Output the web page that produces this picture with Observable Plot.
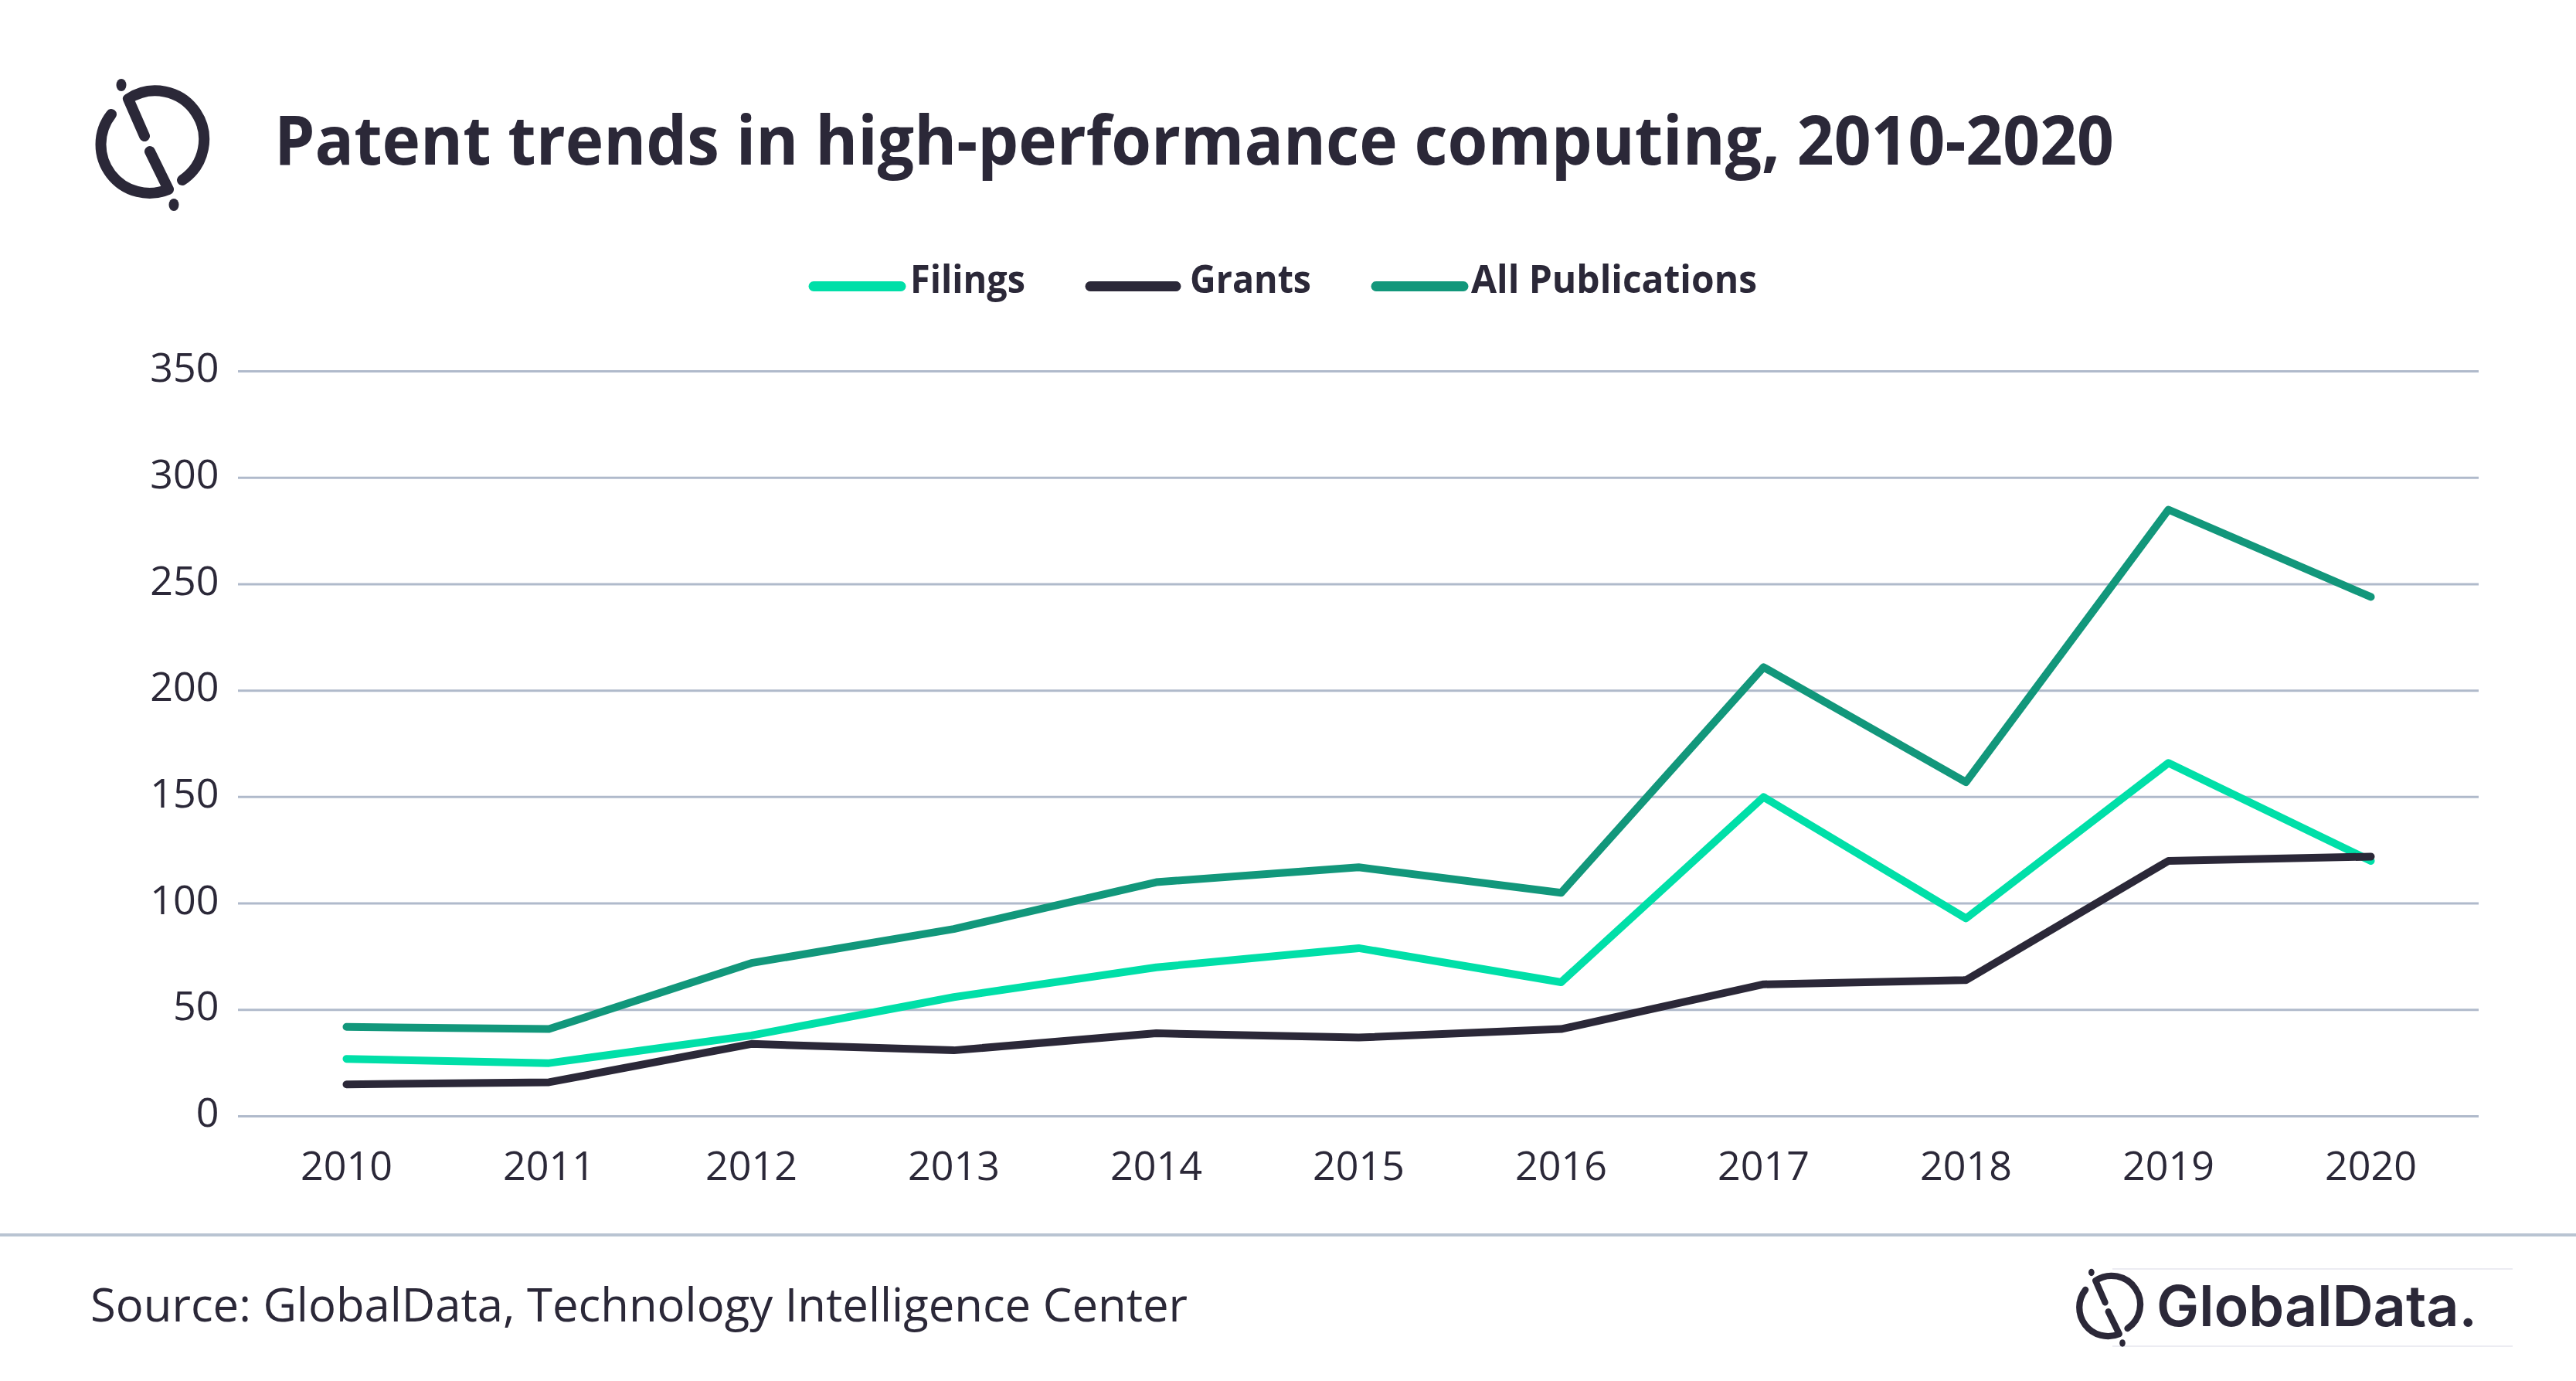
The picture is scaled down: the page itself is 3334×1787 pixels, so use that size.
<!DOCTYPE html>
<html>
<head>
<meta charset="utf-8">
<script src="https://cdn.jsdelivr.net/npm/d3@7"></script>
<script src="https://cdn.jsdelivr.net/npm/@observablehq/plot@0.6"></script>
<style>
  html, body { margin: 0; padding: 0; background: #ffffff; }
  #page { position: relative; width: 3334px; height: 1787px; overflow: hidden; background: #ffffff; font-family: "Open Sans", sans-serif; }
  #chart { position: absolute; left: 0; top: 0; }
  #overlay { position: absolute; left: 0; top: 0; pointer-events: none; }
</style>
</head>
<body>
<div id="page">
  <div id="chart"></div>
  <svg id="overlay" width="3334" height="1787" xmlns="http://www.w3.org/2000/svg"></svg>
</div>
<script>
// ---- data ----
const years = [2010, 2011, 2012, 2013, 2014, 2015, 2016, 2017, 2018, 2019, 2020];
const filings = [27, 25, 38, 56, 70, 79, 63, 150, 93, 166, 120];
const grants = [15, 16, 34, 31, 39, 37, 41, 62, 64, 120, 122];
const allPublications = [42, 41, 72, 88, 110, 117, 105, 211, 157, 285, 244];
const seriesNames = ["Filings", "Grants", "All Publications"];
const seriesColors = ["#00DFA8", "#2B2838", "#12977B"];
const yTicks = [0, 50, 100, 150, 200, 250, 300, 350];

const titleText = "Patent trends in high-performance computing, 2010-2020";
const sourceText = "Source: GlobalData, Technology Intelligence Center";

const seriesValues = [filings, grants, allPublications];
const rows = [];
seriesNames.forEach((name, i) => {
  years.forEach((yr, j) => rows.push({year: yr, value: seriesValues[i][j], series: name}));
});

const textColor = "#2B2838";

const chart = Plot.plot({
  width: 3334,
  height: 1787,
  marginLeft: 308,
  marginRight: 126,
  marginTop: 480,
  marginBottom: 343,
  style: {fontFamily: "'Open Sans', sans-serif", fontSize: "52px", color: textColor, background: "transparent"},
  x: {type: "point", domain: years, range: [444, 3071], padding: 0},
  y: {domain: [0, 350]},
  color: {domain: seriesNames, range: seriesColors},
  marks: [
    Plot.ruleY(yTicks, {stroke: "#B0BACB", strokeWidth: 3}),
    Plot.axisY(yTicks, {tickSize: 0, tickPadding: 25, dy: -3, fill: textColor, fontSize: 52, label: null}),
    Plot.axisX(years, {tickSize: 0, tickPadding: 46, fill: textColor, fontSize: 52, label: null, tickFormat: d => String(d)}),
    Plot.line(rows, {x: "year", y: "value", z: "series", stroke: "series", strokeWidth: 10, strokeLinejoin: "round", strokeLinecap: "round"})
  ]
});
document.getElementById("chart").appendChild(chart);

// ---- overlay: logo, title, legend, footer ----
const ns = "http://www.w3.org/2000/svg";
const ov = document.getElementById("overlay");
function el(tag, attrs, parent, text) {
  const e = document.createElementNS(ns, tag);
  for (const k in attrs) e.setAttribute(k, attrs[k]);
  if (text !== undefined) e.textContent = text;
  (parent || ov).appendChild(e);
  return e;
}
function icon(cx, cy, s) {
  const g = el("g", {transform: `translate(${cx},${cy}) scale(${s})`, fill: "none", stroke: textColor, "stroke-width": 14, "stroke-linecap": "round", "stroke-linejoin": "round"});
  el("path", {d: "M-5,-12 L-26,-60 A63,63 0 0 1 44,45"}, g);
  el("path", {d: "M-48,-40 A63,63 0 0 0 26,57 L2,8"}, g);
  el("ellipse", {cx: -35, cy: -78, rx: 6.5, ry: 8, fill: textColor, stroke: "none"}, g);
  el("ellipse", {cx: 33, cy: 77, rx: 6.5, ry: 8, fill: textColor, stroke: "none"}, g);
}
icon(192, 188, 1);

el("text", {x: 355, y: 213, "font-family": "'Open Sans', sans-serif", "font-weight": 700, "font-size": 87, fill: textColor, textLength: 2381, lengthAdjust: "spacingAndGlyphs"}, ov, titleText);

// legend
const legendItems = [
  {sx1: 1053, sx2: 1166, tx: 1178, tw: 149},
  {sx1: 1411, sx2: 1522, tx: 1540, tw: 157},
  {sx1: 1781, sx2: 1894, tx: 1904, tw: 370}
];
legendItems.forEach((it, i) => {
  el("line", {x1: it.sx1, x2: it.sx2, y1: 370.5, y2: 370.5, stroke: seriesColors[i], "stroke-width": 13, "stroke-linecap": "round"});
  el("text", {x: it.tx, y: 379, "font-family": "'Open Sans', sans-serif", "font-weight": 700, "font-size": 50, fill: textColor, textLength: it.tw, lengthAdjust: "spacingAndGlyphs"}, ov, seriesNames[i]);
});

// separator
el("line", {x1: 0, x2: 3334, y1: 1598, y2: 1598, stroke: "#B9C4D2", "stroke-width": 4});

// source
el("text", {x: 117, y: 1710, "font-family": "'Open Sans', sans-serif", "font-weight": 400, "font-size": 60, fill: textColor, textLength: 1420, lengthAdjust: "spacingAndGlyphs"}, ov, sourceText);

// bottom-right logo
el("line", {x1: 2734, x2: 3252, y1: 1642, y2: 1642, stroke: "#ECECF2", "stroke-width": 2});
el("line", {x1: 2734, x2: 3252, y1: 1742, y2: 1742, stroke: "#ECECF2", "stroke-width": 2});
icon(2727.5, 1692.5, 0.59);
el("text", {x: 2791, y: 1716, "font-family": "Inter, 'Open Sans', sans-serif", "font-weight": 600, "font-size": 73, fill: textColor, textLength: 415, lengthAdjust: "spacingAndGlyphs"}, ov, "GlobalData.");
</script>
</body>
</html>
